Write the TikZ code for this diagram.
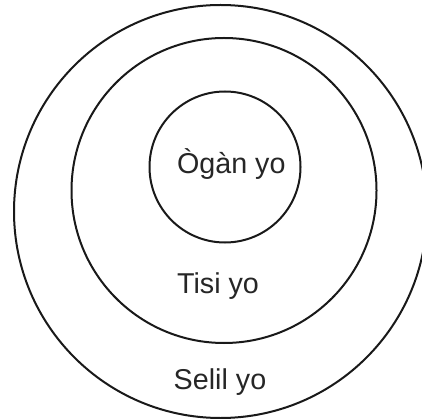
\documentclass[tikz,border=0pt]{standalone}
\usepackage{fontspec}
\setmainfont{Liberation Sans}
\begin{document}
\begin{tikzpicture}[x=1pt,y=-1pt,
  ring/.style={draw=black!90,line width=2pt},
  lbl/.style={anchor=base,inner sep=0pt,font=\fontsize{28.7}{32}\selectfont,text=black!85}]
\useasboundingbox (0,0) rectangle (422,419);
\begin{scope}
\clip (0,0) rectangle (422,419);
\draw[ring] (220.5,211.5) circle[radius=206.5];
\end{scope}
\draw[ring] (224,190.5) circle[radius=152.5];
\draw[ring] (225,167) circle[radius=75.5];
\node[lbl] (organ) at (231.3,174) {Ògàn yo};
\node[lbl] (tisi) at (218,293) {Tisi yo};
\node[lbl] (selil) at (220,389) {Selil yo};
\end{tikzpicture}
\end{document}
